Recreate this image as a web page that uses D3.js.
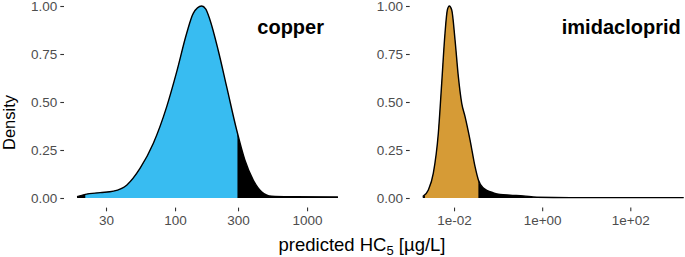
<!DOCTYPE html>
<html>
<head>
<meta charset="utf-8">
<script src="https://cdn.jsdelivr.net/npm/d3@7"></script>
<style>
    body { margin: 0; background: #ffffff; }
    svg { display: block; overflow: hidden; }
    .axis text { font-family: "Liberation Sans", Arial, sans-serif; font-size: 13.5px; fill: #4d4d4d; }
    .axis line { stroke: #333333; stroke-width: 1.1px; }
    .axis_title { font-family: "Liberation Sans", Arial, sans-serif; font-size: 18.5px; fill: #000000; }
    .panel_label { font-family: "Liberation Sans", Arial, sans-serif; font-size: 20px; font-weight: bold; fill: #000000; }
</style>
</head>
<body>
<div class="main_content"></div>
<script>

// Density curves (x = predicted HC5 in ug/L, y = scaled density)
let copperConc = [18.1, 20.9, 27.1, 34.2, 43.2, 54.4, 68.5, 86.5, 103, 122.5, 137.4, 159, 171, 184, 212, 246, 293, 338, 391, 452, 538, 807, 1714];
let copperDens = [0.007, 0.019, 0.028, 0.036, 0.068, 0.155, 0.285, 0.476, 0.658, 0.858, 0.962, 1.0, 0.984, 0.927, 0.771, 0.580, 0.354, 0.198, 0.094, 0.033, 0.010, 0.007, 0.005];
let copperCuts = [20.9, 297];

let imidConc = [0.00195, 0.00261, 0.00339, 0.00440, 0.00525, 0.00624, 0.00705, 0.00782, 0.00887, 0.01054, 0.01253, 0.01496, 0.01778, 0.0231, 0.0300, 0.0357, 0.0463, 0.0553, 0.0782, 0.111, 0.187, 0.376, 0.759, 4.33, 1625];
let imidDens = [0.007, 0.042, 0.129, 0.337, 0.597, 0.858, 0.979, 1.0, 0.979, 0.823, 0.632, 0.493, 0.424, 0.302, 0.163, 0.094, 0.052, 0.040, 0.027, 0.019, 0.015, 0.011, 0.004, 0.002, 0.002];
let imidCuts = [0.00219, 0.0357];

// Tick values and labels
let densityTicks = [0, 0.25, 0.5, 0.75, 1];
let copperTicks = [30, 100, 300, 1000];
let copperTickLabels = ['30', '100', '300', '1000'];
let imidTicks = [0.01, 1, 100];
let imidTickLabels = ['1e-02', '1e+00', '1e+02'];

let substances = ['copper', 'imidacloprid'];
let fillColors = ['#38bcf1', '#d69b36'];

/**
 * One facet: log x axis, density area, black tails outside the interval.
 */
class HcPanel {
    constructor (svg, left, id) {
        this.svg = svg;
        this.left = left;
        this.width = 287;
        this.top = -3.6;
        this.bottom = 207.6;
        this.id = id;
    }

    render (conc, dens, cuts, ticks, tickLabels, fill, label, labelRight) {
        let data = conc.map((c, i) => ({x: c, y: dens[i]}));

        // ggplot style 5% expansion in log space
        let lo = Math.log10(d3.min(conc));
        let hi = Math.log10(d3.max(conc));
        let pad = (hi - lo) * 0.05;

        let xScale = d3.scaleLog()
            .domain([Math.pow(10, lo - pad), Math.pow(10, hi + pad)])
            .range([this.left, this.left + this.width]);

        let yScale = d3.scaleLinear()
            .domain([-0.05, 1.05])
            .range([this.bottom, this.top]);

        let area = d3.area()
            .x(d => xScale(d.x))
            .y0(yScale(0))
            .y1(d => yScale(d.y))
            .curve(d3.curveMonotoneX);

        let line = d3.line()
            .x(d => xScale(d.x))
            .y(d => yScale(d.y))
            .curve(d3.curveMonotoneX);

        // clip for the coloured part between the cuts
        this.svg.append('clipPath')
            .attr('id', 'clip_' + this.id)
            .append('rect')
            .attr('x', xScale(cuts[0]))
            .attr('y', this.top - 5)
            .attr('width', xScale(cuts[1]) - xScale(cuts[0]))
            .attr('height', this.bottom - this.top + 10);

        this.svg.append('path')
            .datum(data)
            .attr('d', area)
            .style('fill', '#000000');

        this.svg.append('path')
            .datum(data)
            .attr('d', area)
            .attr('clip-path', 'url(#clip_' + this.id + ')')
            .style('fill', fill);

        this.svg.append('path')
            .datum(data)
            .attr('d', line)
            .style('fill', 'none')
            .style('stroke', '#000000')
            .style('stroke-width', 1.4);

        // Axes, ticks only
        let yAxis = d3.axisLeft(yScale)
            .tickValues(densityTicks)
            .tickFormat(d3.format('.2f'))
            .tickSize(3.7)
            .tickPadding(3);

        this.svg.append('g')
            .attr('transform', 'translate(' + this.left + ',0)')
            .classed('axis', true)
            .call(yAxis)
            .call(g => g.select('.domain').remove());

        let xAxis = d3.axisBottom(xScale)
            .tickValues(ticks)
            .tickFormat((d, i) => tickLabels[i])
            .tickSize(3.7)
            .tickPadding(4);

        this.svg.append('g')
            .attr('transform', 'translate(0,' + this.bottom + ')')
            .classed('axis', true)
            .call(xAxis)
            .call(g => g.select('.domain').remove());

        this.svg.append('text')
            .attr('x', this.left + this.width - labelRight)
            .attr('y', 34)
            .style('text-anchor', 'end')
            .classed('panel_label', true)
            .text(label);
    }
}

let svg = d3.select('.main_content')
    .append('svg')
    .attr('width', 685)
    .attr('height', 257);

let copperPanel = new HcPanel(svg, 64, 'copper');
copperPanel.render(copperConc, copperDens, copperCuts, copperTicks, copperTickLabels, fillColors[0], substances[0], 27);

let imidPanel = new HcPanel(svg, 409.7, 'imid');
imidPanel.render(imidConc, imidDens, imidCuts, imidTicks, imidTickLabels, fillColors[1], substances[1], 16);

// Axis titles
svg.append('text')
    .attr('transform', 'translate(15,122.5) rotate(-90)')
    .style('text-anchor', 'middle')
    .style('font-size', '16.5px')
    .classed('axis_title', true)
    .text('Density');

let xTitle = svg.append('text')
    .attr('x', 362)
    .attr('y', 251)
    .style('text-anchor', 'middle')
    .classed('axis_title', true);

xTitle.append('tspan').text('predicted HC');
xTitle.append('tspan').attr('dy', 4).style('font-size', '13px').text('5');
xTitle.append('tspan').attr('dy', -4).text(' [µg/L]');

</script>
</body>
</html>
